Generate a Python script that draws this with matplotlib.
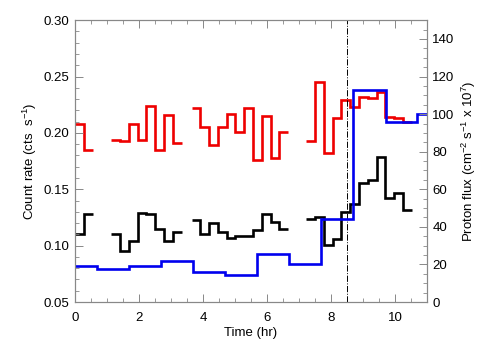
import numpy as np
import matplotlib
matplotlib.use("Agg")
import matplotlib.pyplot as plt
from matplotlib.ticker import MultipleLocator

plt.rcParams['font.family'] = ['Liberation Sans', 'DejaVu Sans']
plt.rcParams['mathtext.fontset'] = 'custom'
plt.rcParams['mathtext.rm'] = 'Liberation Sans'

# --- data ---
bin_width = 0.275  # hr
group_starts = [0.0, 1.13, 3.64, 7.23]

red_groups = [
    [0.208, 0.185],
    [0.194, 0.193, 0.208, 0.194, 0.224, 0.185, 0.216, 0.191],
    [0.222, 0.205, 0.189, 0.205, 0.217, 0.201, 0.222, 0.176, 0.215, 0.178, 0.201],
    [0.193, 0.245, 0.182, 0.213, 0.229, 0.223, 0.232, 0.231, 0.236, 0.214, 0.213, 0.210],
]
black_groups = [
    [0.110, 0.128],
    [0.110, 0.095, 0.104, 0.129, 0.128, 0.115, 0.104, 0.112],
    [0.123, 0.110, 0.120, 0.112, 0.107, 0.109, 0.109, 0.114, 0.128, 0.121, 0.115],
    [0.124, 0.125, 0.101, 0.106, 0.130, 0.137, 0.156, 0.158, 0.179, 0.142, 0.147, 0.132],
]

flux_edges = [0.0, 0.68, 1.68, 2.69, 3.69, 4.69, 5.68, 6.69, 7.68, 8.68, 9.71, 10.69, 11.0]
flux_vals = [19.0, 17.5, 19.0, 22.0, 16.0, 14.5, 25.5, 20.0, 44.0, 113.0, 96.0, 100.0]

t_marker = 8.5

fig = plt.figure(figsize=(5.04, 3.6), dpi=100)
ax = fig.add_axes([0.149, 0.161, 0.698, 0.783])
ax2 = ax.twinx()

lw = 1.9
for start, vals in zip(group_starts, red_groups):
    edges = start + bin_width * np.arange(len(vals) + 1)
    ax.stairs(vals, edges, color='#ee0000', lw=lw, baseline=None)
for start, vals in zip(group_starts, black_groups):
    edges = start + bin_width * np.arange(len(vals) + 1)
    ax.stairs(vals, edges, color='black', lw=lw, baseline=None)

ax2.stairs(flux_vals, flux_edges, color='#0000ee', lw=lw, baseline=None)
ax.axvline(t_marker, color='black', lw=0.7, ls='-.')

ax.set_xlim(0, 11)
ax.set_ylim(0.05, 0.30)
ax2.set_ylim(0, 150)

fs = 9.5
ax.set_xlabel('Time (hr)', fontsize=fs, labelpad=2)
ax.set_ylabel('Count rate (cts  s$^{-1}$)', fontsize=fs, labelpad=3)
ax2.set_ylabel('Proton flux (cm$^{-2}$ s$^{-1}$ x 10$^{7}$)', fontsize=fs, labelpad=4)

ax.xaxis.set_major_locator(MultipleLocator(2))
ax.xaxis.set_minor_locator(MultipleLocator(0.5))
ax.yaxis.set_major_locator(MultipleLocator(0.05))
ax.yaxis.set_minor_locator(MultipleLocator(0.01))
ax.yaxis.set_major_formatter(lambda v, p: f'{v:.2f}')
ax2.yaxis.set_major_locator(MultipleLocator(20))
ax2.yaxis.set_minor_locator(MultipleLocator(5))
ax2.set_yticks(np.arange(0, 141, 20))

for a in (ax, ax2):
    for s in a.spines.values():
        s.set_color('#888888')
        s.set_linewidth(0.8)
ax.tick_params(which='both', direction='in', top=True, right=False, color='#888888', labelsize=fs)
ax.tick_params(which='major', length=6, width=0.7, pad=4)
ax.tick_params(axis='x', which='major', pad=7)
ax.tick_params(which='minor', length=3, width=0.6)
ax2.tick_params(which='both', direction='in', color='#888888', labelsize=fs)
ax2.tick_params(which='major', length=6, width=0.7, pad=4)
ax2.tick_params(which='minor', length=3, width=0.6)

fig.savefig('out.png', dpi=100)
